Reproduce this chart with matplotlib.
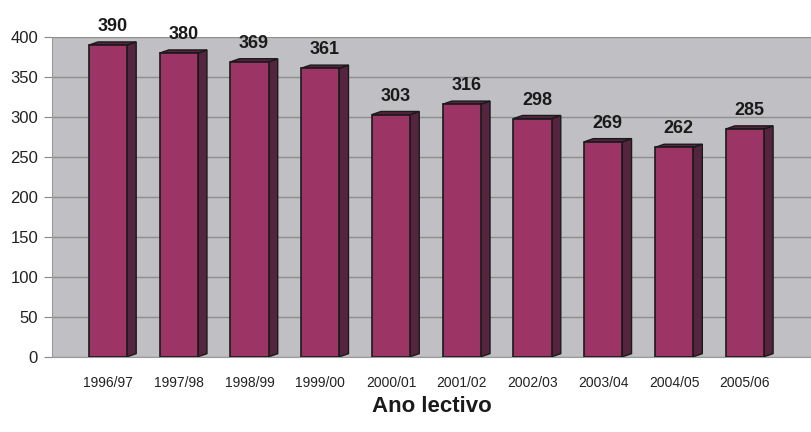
import matplotlib.pyplot as plt
from matplotlib.patches import Polygon

anos = ['1996/97', '1997/98', '1998/99', '1999/00', '2000/01',
        '2001/02', '2002/03', '2003/04', '2004/05', '2005/06']
valores = [390, 380, 369, 361, 303, 316, 298, 269, 262, 285]

plt.rcParams['font.family'] = ['Liberation Sans', 'DejaVu Sans']

fig = plt.figure(figsize=(8.12, 4.32), dpi=100)
ax = fig.add_axes([0.064, 0.174, 0.936, 0.740])
ax.set_facecolor('#c0c0c4')

largura = 0.54
dx, dy = 0.13, 4  # pseudo 3D depth
x = list(range(len(anos)))

ax.bar(x, valores, width=largura, color='#9c3566', edgecolor='#1a1a1a',
       linewidth=1.2, zorder=3)

for xi, v in zip(x, valores):
    xl, xr = xi - largura / 2, xi + largura / 2
    lado = Polygon([(xr, 0), (xr + dx, dy), (xr + dx, v + dy), (xr, v)],
                   closed=True, facecolor='#55253f', edgecolor='#1a1a1a',
                   linewidth=1.0, zorder=2)
    topo = Polygon([(xl, v), (xl + dx, v + dy), (xr + dx, v + dy), (xr, v)],
                   closed=True, facecolor='#55253f', edgecolor='#1a1a1a',
                   linewidth=1.0, zorder=2)
    ax.add_patch(lado)
    ax.add_patch(topo)
    ax.annotate(str(v), (xi + dx / 2, v + dy), xytext=(0, 5),
                textcoords='offset points', ha='center', va='bottom',
                fontsize=13, fontweight='bold', color='#1a1a1a',
                annotation_clip=False)

ax.set_xlim(-0.79, 9.95)
ax.set_ylim(0, 400)
ax.set_yticks(range(0, 401, 50))
ax.tick_params(axis='y', labelsize=12, colors='#888888', labelcolor='#222222',
               length=6, pad=4)
ax.set_xticks(x)
ax.set_xticklabels(anos)
ax.tick_params(axis='x', labelsize=10, length=0, pad=14, labelcolor='#222222')
ax.yaxis.grid(True, color='#8e8e8e', linewidth=1.0)
ax.set_axisbelow(True)

for s in ['top', 'right']:
    ax.spines[s].set_visible(False)
ax.spines['left'].set_color('#9a9a9a')
ax.spines['bottom'].set_color('#9a9a9a')

ax.set_xlabel('Ano lectivo', fontsize=16, fontweight='bold', labelpad=4,
              color='#1a1a1a')

fig.savefig('out.png', dpi=100)
